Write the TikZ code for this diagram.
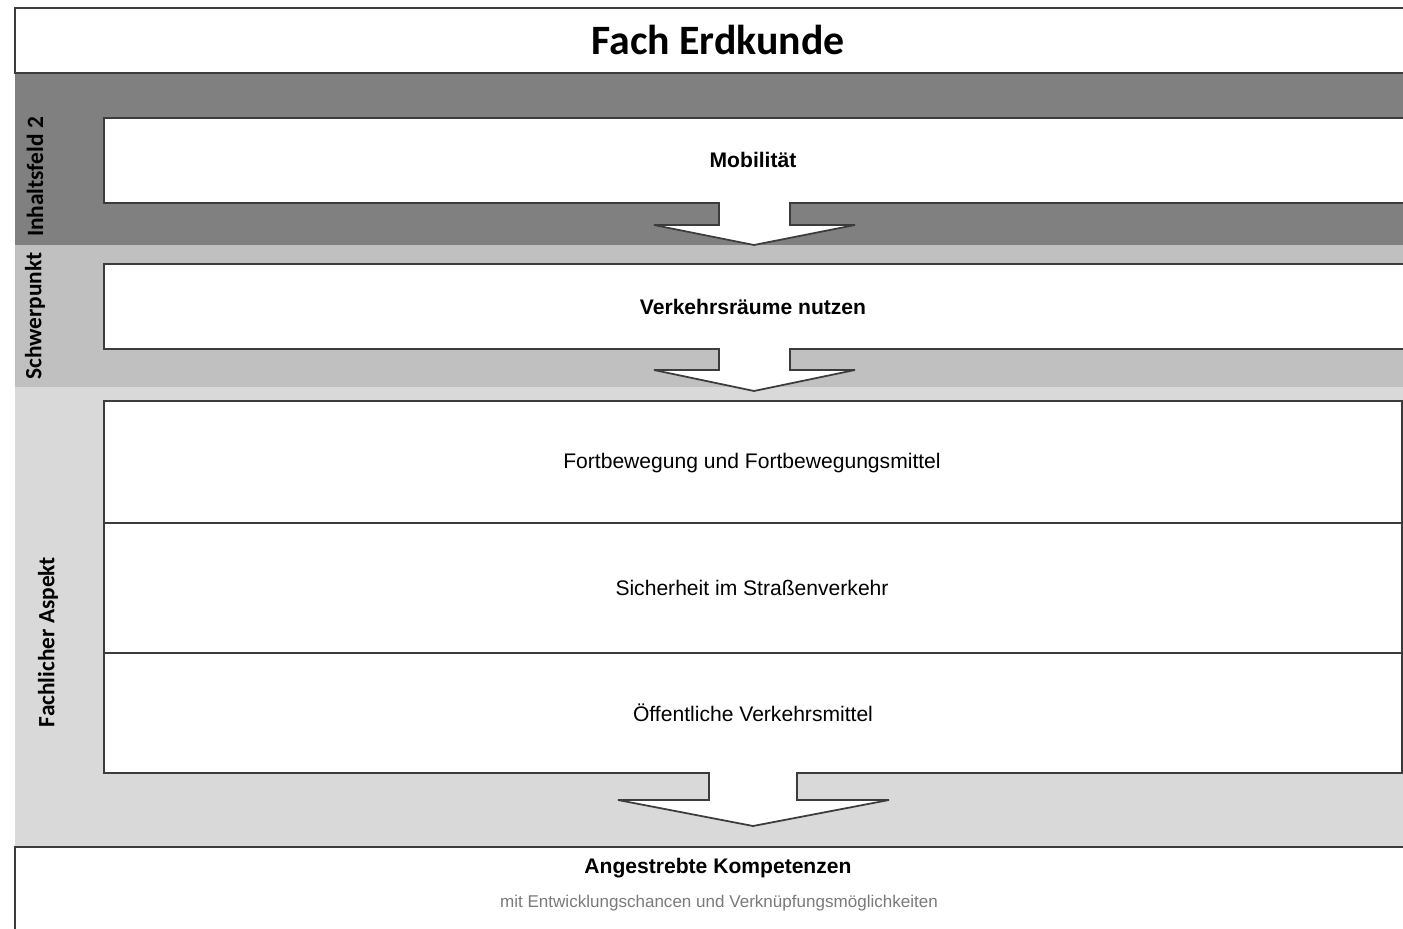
\documentclass[tikz,border=0pt]{standalone}
\usepackage{fontspec}
\setmainfont{Liberation Sans}
\newfontfamily\calfont{Carlito}

\definecolor{banddark}{HTML}{808080}
\definecolor{bandmid}{HTML}{C0C0C0}
\definecolor{bandlight}{HTML}{D9D9D9}
\definecolor{rimgray}{HTML}{3C3C3C}
\definecolor{subgray}{HTML}{7A7A7A}

\begin{document}
\begin{tikzpicture}[x=0.02cm, y=-0.02cm]
\tikzstyle{box_line}=[draw=rimgray, line width=1pt, fill=white, miter limit=2]
\tikzstyle{band_label}=[rotate=90, font=\calfont\bfseries\fontsize{13.3}{15}\selectfont]
\tikzstyle{box_text}=[font=\fontsize{12}{14}\selectfont]
\tikzstyle{box_head}=[font=\bfseries\fontsize{12}{14}\selectfont]

\useasboundingbox (0,0) rectangle (1403,929);
\clip (0,0) rectangle (1403,929);

% bands
\fill[banddark] (15,73) rectangle (1420,245);
\fill[bandmid] (15,245) rectangle (1420,387);
\fill[bandlight] (15,387) rectangle (1420,847);

% title and result boxes
\draw[box_line] (15,8) rectangle (1420,73);
\draw[box_line] (15,847) rectangle (1420,960);

% boxes with arrows
\draw[box_line] (104,118) -- (1420,118) -- (1420,203) -- (790,203) -- (790,225)
	-- (855,225) -- (754,245) -- (654,225) -- (719,225) -- (719,203) -- (104,203) -- cycle;
\draw[box_line] (104,264) -- (1420,264) -- (1420,349) -- (790,349) -- (790,370)
	-- (855,370) -- (754,391) -- (654,370) -- (719,370) -- (719,349) -- (104,349) -- cycle;
\draw[box_line] (104,401) -- (1402,401) -- (1402,773) -- (797,773) -- (797,800)
	-- (889,800) -- (753,826) -- (618,800) -- (709,800) -- (709,773) -- (104,773) -- cycle;
\draw[rimgray, line width=1pt] (104,523) -- (1402,523);
\draw[rimgray, line width=1pt] (104,653) -- (1402,653);

% texts
\node (title) at (718,40) {\calfont\bfseries\fontsize{23.8}{28}\selectfont Fach Erdkunde};
\node[band_label] (field) at (35,177) {Inhaltsfeld 2};
\node[band_label] (focus) at (35,316) {Schwerpunkt};
\node[band_label] (aspect) at (48,642) {Fachlicher Aspekt};
\node[box_head] (mob) at (753,160) {Mobilität};
\node[box_head] (use) at (753,307) {Verkehrsräume nutzen};
\node[box_text] (move) at (752,463) {Fortbewegung und Fortbewegungsmittel};
\node[box_text] (safe) at (752,588) {Sicherheit im Straßenverkehr};
\node[box_text] (public) at (753,713) {Öffentliche Verkehrsmittel};
\node[box_head] (goal) at (718,868) {Angestrebte Kompetenzen};
\node[font=\fontsize{9.7}{11}\selectfont, text=subgray] (sub) at (719,903)
	{mit Entwicklungschancen und Verknüpfungsmöglichkeiten};

\end{tikzpicture}
\end{document}
